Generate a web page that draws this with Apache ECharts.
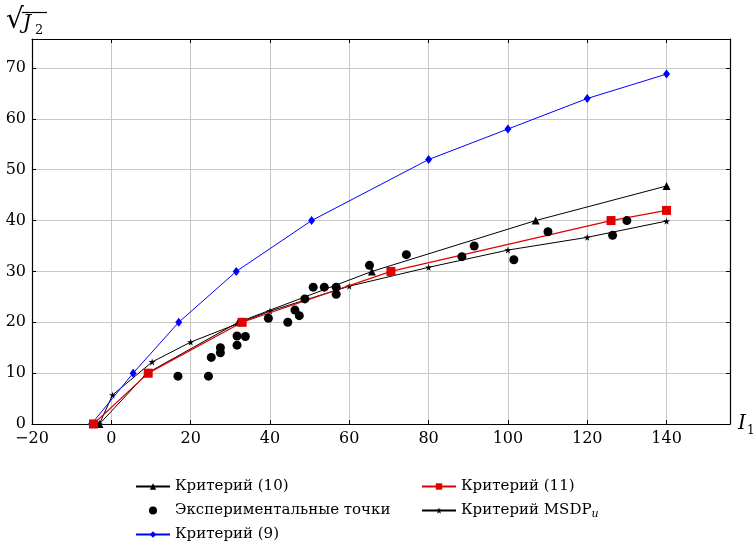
<!DOCTYPE html>
<html lang="ru">
<head>
<meta charset="UTF-8">
<script src="https://cdn.jsdelivr.net/npm/echarts@6/dist/echarts.min.js"></script>
<style>
  html, body { margin: 0; padding: 0; background: #fff; }
  #main { width: 756px; height: 545px; }
</style>
</head>
<body>
<div id="main"></div>
<script>
// данные
var crit9X = [-5, 5.5, 17, 31.5, 50.5, 80, 100, 120, 140];
var crit9Y = [0, 10, 20, 30, 40, 52, 58, 64, 68.8];

var crit11X = [-4.5, 9.3, 33, 70.5, 126, 140];
var crit11Y = [0, 10, 20, 30, 40, 42];

var crit10X = [-3, 9, 32, 65.7, 107, 140];
var crit10Y = [0, 10, 20, 30, 40, 46.8];

var msdpX = [-3, 0.3, 10.3, 20, 40, 60, 80, 100, 120, 140];
var msdpY = [0, 5.7, 12.2, 16.1, 22.2, 27.1, 30.8, 34.2, 36.7, 39.9];

var expX = [16.8, 24.5, 25.2, 27.5, 27.5, 31.7, 31.7, 33.8, 39.6, 44.5, 46.3, 47.4, 48.8,
            50.9, 53.7, 56.7, 56.7, 65.1, 74.4, 88.4, 91.5, 101.5, 110.1, 126.4, 130];
var expY = [9.4, 9.4, 13.1, 14.0, 15.0, 15.5, 17.3, 17.2, 20.8, 20.0, 22.4, 21.3, 24.6,
            26.9, 26.9, 26.9, 25.5, 31.2, 33.3, 32.9, 35.0, 32.3, 37.8, 37.1, 40.0];

var xTicks = [-20, 0, 20, 40, 60, 80, 100, 120, 140];
var yTicks = [0, 10, 20, 30, 40, 50, 60, 70];

function pairs(xs, ys) {
  var out = [];
  for (var i = 0; i < xs.length; i++) out.push([xs[i], ys[i]]);
  return out;
}

var serif = '"DejaVu Serif", "Liberation Serif", serif';
var starPath = 'path://M50,0 L61,35 L98,35 L68,57 L79,92 L50,70 L21,92 L32,57 L2,35 L39,35 Z';

var myChart = echarts.init(document.getElementById('main'));

var axisCommon = {
  axisLine: { show: true, onZero: false, lineStyle: { color: '#000', width: 1.2 } },
  axisTick: { show: true, inside: true, length: 4, lineStyle: { color: '#000' } }
};

var legendText = { color: '#000', fontFamily: serif, fontSize: 15 };

var option = {
  animation: false,
  backgroundColor: '#fff',
  grid: { left: 32, right: 26, top: 39, bottom: 121 },
  xAxis: [
    Object.assign({
      type: 'value', min: -20, max: 156, interval: 20,
      axisLabel: {
        color: '#000', fontFamily: serif, fontSize: 16, margin: 7,
        formatter: function (v) {
          return xTicks.indexOf(v) >= 0 ? String(v).replace('-', '\u2212') : '';
        }
      },
      splitLine: { show: true, lineStyle: { color: '#c8c8c8', width: 1 } }
    }, axisCommon),
    Object.assign({
      type: 'value', min: -20, max: 156, interval: 20, position: 'top',
      axisLabel: { show: false }, splitLine: { show: false }
    }, axisCommon)
  ],
  yAxis: [
    Object.assign({
      type: 'value', min: 0, max: 75.7, interval: 10,
      axisLabel: {
        color: '#000', fontFamily: serif, fontSize: 16, margin: 6,
        formatter: function (v) { return yTicks.indexOf(v) >= 0 ? String(v) : ''; }
      },
      splitLine: { show: true, lineStyle: { color: '#c8c8c8', width: 1 } }
    }, axisCommon),
    Object.assign({
      type: 'value', min: 0, max: 75.7, interval: 10, position: 'right',
      axisLabel: { show: false }, splitLine: { show: false }
    }, axisCommon)
  ],
  graphic: [
    { type: 'text', left: 6, top: 7,
      style: { text: '\u221A', font: '28px ' + serif, fill: '#000' } },
    { type: 'line', shape: { x1: 22, y1: 12.5, x2: 47, y2: 12.5 }, style: { stroke: '#000', lineWidth: 1.2 } },
    { type: 'text', left: 23, top: 14,
      style: { text: 'J', font: 'italic 20px ' + serif, fill: '#000' } },
    { type: 'text', left: 35, top: 24,
      style: { text: '2', font: '13px ' + serif, fill: '#000' } },
    { type: 'text', left: 738, top: 414,
      style: { text: 'I', font: 'italic 20px ' + serif, fill: '#000' } },
    { type: 'text', left: 747, top: 425,
      style: { text: '1', font: '12px ' + serif, fill: '#000' } }
  ],
  legend: [
    {
      orient: 'vertical', left: 130, top: 474, height: 90, itemGap: 9, itemWidth: 34, itemHeight: 8,
      data: ['Критерий (10)', 'Экспериментальные точки', 'Критерий (9)'],
      textStyle: legendText
    },
    {
      orient: 'vertical', left: 416, top: 474, height: 90, itemGap: 9, itemWidth: 34, itemHeight: 8,
      data: ['Критерий (11)', 'Критерий MSDP'],
      formatter: function (name) {
        return name === 'Критерий MSDP' ? 'Критерий MSDP{sub|u}' : name;
      },
      textStyle: Object.assign({
        rich: { sub: { fontFamily: serif, fontStyle: 'italic', fontSize: 11, verticalAlign: 'bottom', padding: [8, 0, 0, 0] } }
      }, legendText)
    }
  ],
  series: [
    {
      name: 'Критерий (9)', type: 'line', data: pairs(crit9X, crit9Y),
      symbol: 'diamond', symbolSize: [7, 9],
      lineStyle: { color: '#0000ff', width: 1 }, itemStyle: { color: '#0000ff' }, z: 3
    },
    {
      name: 'Критерий (10)', type: 'line', data: pairs(crit10X, crit10Y),
      symbol: 'triangle', symbolSize: 8,
      lineStyle: { color: '#000', width: 1 }, itemStyle: { color: '#000' }, z: 2
    },
    {
      name: 'Критерий MSDP', type: 'line', data: pairs(msdpX, msdpY),
      symbol: starPath, symbolSize: 7,
      lineStyle: { color: '#000', width: 1 }, itemStyle: { color: '#000' }, z: 2
    },
    {
      name: 'Критерий (11)', type: 'line', data: pairs(crit11X, crit11Y),
      symbol: 'rect', symbolSize: 9,
      lineStyle: { color: '#e00000', width: 1.2 }, itemStyle: { color: '#e00000' }, z: 4
    },
    {
      name: 'Экспериментальные точки', type: 'scatter', data: pairs(expX, expY),
      symbol: 'circle', symbolSize: 9,
      itemStyle: { color: '#000', opacity: 1 }, z: 5
    }
  ]
};

myChart.setOption(option);
</script>
</body>
</html>
